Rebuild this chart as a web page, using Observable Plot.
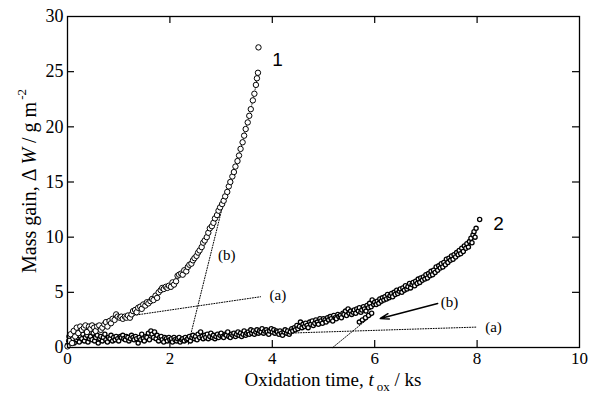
<!DOCTYPE html>
<html><head><meta charset="utf-8">
<script src="https://cdn.jsdelivr.net/npm/d3@7"></script>
<script src="https://cdn.jsdelivr.net/npm/@observablehq/plot@0.6"></script>
<style>body{margin:0;background:#fff}#chart svg{display:block}#chart svg text{font-family:"Liberation Serif",serif}#chart svg .sans text{font-family:"Liberation Sans",sans-serif}</style>
</head><body><div id="chart"></div>
<script>
// Series 1 (open circles)
const s1x = [0.00,0.03,0.06,0.09,0.12,0.15,0.18,0.21,0.25,0.28,0.32,0.35,0.38,0.42,0.45,0.48,0.52,0.55,0.58,0.62,0.65,0.68,0.72,0.75,0.78,0.82,0.85,0.88,0.92,0.95,0.98,1.02,1.05,1.08,1.12,1.15,1.18,1.22,1.25,1.28,1.32,1.35,1.38,1.42,1.45,1.48,1.52,1.55,1.58,1.62,1.65,1.68,1.72,1.75,1.78,1.82,1.85,1.88,1.92,1.95,1.98,2.02,2.05,2.08,2.12,2.15,2.18,2.22,2.25,2.28,2.32,2.35,2.38,2.42,2.45,2.48,2.52,2.55,2.58,2.62,2.65,2.68,2.72,2.75,2.78,2.82,2.85,2.88,2.92,2.95,2.98,3.02,3.05,3.08,3.12,3.15,3.18,3.22,3.25,3.28,3.32,3.35,3.38,3.42,3.45,3.48,3.52,3.55,3.58,3.62,3.65,3.68,3.70,3.72,3.73];
const s1y = [0.1,0.6,1.2,0.4,1.5,1.0,1.8,1.3,1.9,1.6,1.8,2.0,1.4,1.9,1.7,2.0,1.8,1.5,1.9,2.0,1.6,1.8,2.1,2.3,1.9,2.4,2.2,2.6,2.5,3.0,2.8,2.7,2.8,2.6,2.8,2.7,2.9,2.7,3.0,3.3,3.4,3.2,3.6,3.7,3.5,3.9,3.8,4.1,4.0,4.2,4.4,4.3,4.7,4.5,5.0,5.2,5.4,5.3,5.5,5.4,5.6,5.5,5.9,5.7,6.0,6.5,6.6,6.7,6.6,7.0,6.9,7.3,7.5,7.6,7.9,8.1,8.3,8.6,8.8,9.1,9.5,9.7,10.0,10.4,10.8,11.0,11.3,11.7,12.0,12.4,12.7,13.0,13.3,13.7,14.1,14.6,15.0,15.5,15.9,16.4,16.9,17.4,18.0,18.6,19.2,19.8,20.4,21.0,21.6,22.4,23.0,23.8,24.4,24.9,27.2];

// Series 2 (small circles)
const s2x = [0.00,0.03,0.05,0.08,0.10,0.13,0.15,0.18,0.20,0.23,0.25,0.28,0.30,0.33,0.35,0.38,0.40,0.43,0.45,0.48,0.50,0.53,0.55,0.58,0.60,0.63,0.65,0.68,0.70,0.73,0.75,0.78,0.80,0.83,0.85,0.88,0.90,0.93,0.95,0.98,1.00,1.03,1.05,1.08,1.10,1.13,1.15,1.18,1.20,1.23,1.25,1.28,1.30,1.33,1.35,1.38,1.40,1.43,1.45,1.48,1.50,1.53,1.55,1.58,1.60,1.63,1.65,1.68,1.70,1.73,1.75,1.78,1.80,1.83,1.85,1.88,1.90,1.93,1.95,1.98,2.00,2.03,2.05,2.08,2.10,2.13,2.15,2.18,2.20,2.23,2.25,2.28,2.30,2.33,2.35,2.38,2.40,2.43,2.45,2.48,2.50,2.53,2.55,2.58,2.60,2.63,2.65,2.68,2.70,2.73,2.75,2.78,2.80,2.83,2.85,2.88,2.90,2.93,2.95,2.98,3.00,3.03,3.05,3.08,3.10,3.13,3.15,3.18,3.20,3.23,3.25,3.28,3.30,3.33,3.35,3.38,3.40,3.43,3.45,3.48,3.50,3.53,3.55,3.58,3.60,3.63,3.65,3.68,3.70,3.73,3.75,3.78,3.80,3.83,3.85,3.88,3.90,3.93,3.95,3.98,4.00,4.03,4.05,4.08,4.10,4.13,4.15,4.18,4.20,4.23,4.25,4.28,4.30,4.33,4.35,4.38,4.40,4.43,4.45,4.48,4.50,4.53,4.55,4.58,4.60,4.63,4.65,4.68,4.70,4.73,4.75,4.78,4.80,4.83,4.85,4.88,4.90,4.93,4.95,4.98,5.00,5.03,5.05,5.08,5.10,5.13,5.15,5.18,5.20,5.23,5.25,5.28,5.30,5.33,5.35,5.38,5.40,5.43,5.45,5.48,5.50,5.53,5.55,5.58,5.60,5.63,5.65,5.68,5.70,5.73,5.75,5.78,5.80,5.83,5.85,5.88,5.90,5.93,5.95,5.98,6.00,5.70,5.76,5.82,5.88,5.94,6.03,6.05,6.08,6.10,6.13,6.15,6.18,6.20,6.23,6.25,6.28,6.30,6.33,6.35,6.38,6.40,6.43,6.45,6.48,6.50,6.53,6.55,6.58,6.60,6.63,6.65,6.68,6.70,6.73,6.75,6.78,6.80,6.83,6.85,6.88,6.90,6.93,6.95,6.98,7.00,7.03,7.05,7.08,7.10,7.13,7.15,7.18,7.20,7.23,7.25,7.28,7.30,7.33,7.35,7.38,7.40,7.43,7.45,7.48,7.50,7.53,7.55,7.58,7.60,7.63,7.65,7.68,7.70,7.73,7.75,7.78,7.80,7.83,7.85,7.88,7.90,7.92,7.94,7.96,7.98,8.05];
const s2y = [0.2,1.0,0.6,1.2,0.8,0.4,1.1,0.7,0.9,0.5,1.0,0.8,1.2,0.6,0.9,1.1,0.5,0.8,1.0,0.7,1.3,0.6,0.9,1.1,0.4,0.8,1.0,0.6,0.9,1.2,0.7,0.5,0.9,0.8,1.1,0.6,0.9,0.7,1.0,0.8,0.6,1.0,0.9,1.1,0.8,0.7,1.0,0.9,0.6,0.8,1.1,0.9,0.7,1.0,0.8,0.4,0.9,0.7,1.2,0.8,0.6,1.0,0.9,1.3,0.7,1.5,1.2,0.9,1.4,0.8,1.1,0.6,0.9,1.0,0.7,0.5,0.9,0.8,0.6,0.9,0.7,0.8,0.5,0.9,0.7,0.6,0.8,0.9,0.5,0.7,0.8,0.6,0.9,0.7,0.8,1.0,0.6,0.9,1.1,0.8,1.0,0.7,1.2,0.9,1.4,1.0,0.8,1.1,0.9,1.2,0.8,1.0,1.3,0.9,1.1,0.8,1.0,1.2,0.9,1.1,1.3,1.0,0.9,1.2,1.1,1.4,1.0,0.9,1.2,1.1,1.3,1.0,1.2,1.4,1.1,1.3,1.0,1.2,1.5,1.1,1.3,1.4,1.2,1.6,1.3,1.5,1.2,1.4,1.6,1.3,1.5,1.4,1.7,1.3,1.5,1.6,1.4,1.2,1.5,1.7,1.4,1.6,1.3,1.5,1.4,1.2,1.5,1.3,1.1,1.4,1.6,1.3,1.5,1.2,1.4,1.7,1.5,1.8,1.6,2.0,1.7,1.9,2.3,1.8,2.1,1.9,2.2,2.0,1.8,2.3,2.1,2.4,2.0,2.2,2.5,2.3,2.1,2.6,2.4,2.2,2.6,2.5,2.3,2.7,2.5,2.8,2.6,2.4,2.9,2.7,2.6,3.0,2.8,2.9,2.7,3.1,3.0,3.3,2.9,3.5,3.1,3.3,3.0,3.2,3.4,3.1,3.5,3.3,3.6,3.2,3.4,3.7,3.5,3.3,3.8,3.6,4.0,3.7,4.3,3.9,4.1,2.3,2.5,2.7,2.9,3.1,3.9,4.2,4.0,4.4,4.2,4.5,4.3,4.6,4.4,4.8,4.5,4.7,4.9,4.6,5.0,4.8,5.2,4.9,5.1,5.3,5.0,5.4,5.2,5.6,5.3,5.5,5.8,5.4,5.7,5.9,5.6,6.0,5.8,6.2,5.9,6.3,6.1,6.4,6.2,6.6,6.3,6.7,6.5,6.9,6.6,7.0,6.8,7.3,7.0,7.4,7.2,7.6,7.3,7.7,7.5,8.0,7.7,8.1,7.9,8.3,8.0,8.4,8.2,8.6,8.4,8.8,8.5,9.0,8.7,9.2,9.0,9.4,9.1,9.6,9.9,9.5,10.2,10.5,10.0,10.8,11.6];

// Tangent lines and annotations [x, y]
const tanA1 = [[1.2, 2.85], [3.77, 4.6]];
const tanB1 = [[2.36, 0.3], [3.05, 13.2]];
const tanA2 = [[4.3, 1.3], [8.0, 1.85]];
const tanB2 = [[5.18, 0.0], [5.97, 3.0]];
const arrowB2 = [{x1: 7.23, y1: 3.99, x2: 6.11, y2: 2.63}];
const curveLabels = [{x: 4.1, y: 26.1, t: "1"}, {x: 8.42, y: 11.2, t: "2"}];
const lineLabels = [
  {x: 3.11, y: 8.35, t: "(b)"}, {x: 4.11, y: 4.72, t: "(a)"},
  {x: 7.46, y: 4.1, t: "(b)"}, {x: 8.32, y: 1.8, t: "(a)"}
];
const xTicks = [0, 2, 4, 6, 8, 10];
const yTicks = [0, 5, 10, 15, 20, 25, 30];
const xTitle = "Oxidation time, ";
const yTitle = "Mass gain, ";

const W = 592, H = 394, mL = 67, mR = 13, mT = 16, mB = 47;
const pw = W - mL - mR, ph = H - mT - mB;
const s1 = s1x.map((x, i) => ({x, y: s1y[i]}));
const s2 = s2x.map((x, i) => ({x, y: s2y[i]}));
const toPts = a => a.map(([x, y]) => ({x, y}));
const dash = {x: "x", y: "y", stroke: "black", strokeWidth: 1, strokeDasharray: "1,1.6"};

const chart = Plot.plot({
  width: W, height: H,
  marginLeft: mL, marginRight: mR, marginTop: mT, marginBottom: mB,
  style: {fontSize: "18px", background: "white", color: "black"},
  x: {domain: [0, 10]},
  y: {domain: [0, 30]},
  marks: [
    Plot.line(toPts(tanA1), dash),
    Plot.line(toPts(tanB1), dash),
    Plot.line(toPts(tanA2), dash),
    Plot.line(toPts(tanB2), dash),
    Plot.line(s1.filter(d => d.x >= 2.85 && d.y < 26), {x: "x", y: "y", stroke: "black", strokeWidth: 0.8, strokeDasharray: "1,1.5"}),
    Plot.dot(s2, {x: "x", y: "y", r: 2.1, stroke: "black", strokeWidth: 1.3, fill: "white"}),
    Plot.dot(s1, {x: "x", y: "y", r: 2.7, stroke: "black", strokeWidth: 1, fill: "white"}),
    Plot.arrow(arrowB2, {x1: "x1", y1: "y1", x2: "x2", y2: "y2", stroke: "black", strokeWidth: 1.5, headLength: 9, headAngle: 35}),
    Plot.text(lineLabels, {x: "x", y: "y", text: "t", fontSize: 15, fill: "black"}),
    Plot.text(curveLabels, {x: "x", y: "y", text: "t", fontSize: 19, fill: "black", className: "sans"}),
    Plot.frame({stroke: "black", strokeWidth: 1.3}),
    Plot.tickX(xTicks.slice(1, -1), {x: d => d, insetTop: ph - 7, stroke: "black", strokeWidth: 1.2}),
    Plot.tickX(xTicks.slice(1, -1), {x: d => d, insetBottom: ph - 7, stroke: "black", strokeWidth: 1.2}),
    Plot.tickY(yTicks.slice(1, -1), {y: d => d, insetRight: pw - 7, stroke: "black", strokeWidth: 1.2}),
    Plot.tickY(yTicks.slice(1, -1), {y: d => d, insetLeft: pw - 7, stroke: "black", strokeWidth: 1.2}),
    Plot.axisX({ticks: xTicks, tickSize: 0, tickPadding: 4, label: null, fontSize: 17, fill: "black"}),
    Plot.axisY({ticks: yTicks, tickSize: 0, tickPadding: 4, label: null, fontSize: 18, fill: "black"})
  ]
});

const svg = d3.select(chart);
svg.selectAll(".sans text").style("font-family", "Liberation Sans, sans-serif");

const tx = svg.append("text")
  .attr("x", 333).attr("y", 386).attr("text-anchor", "middle")
  .attr("font-size", 19).attr("fill", "black");
tx.append("tspan").text(xTitle);
tx.append("tspan").attr("font-style", "italic").text("t");
tx.append("tspan").attr("font-size", 13).attr("dy", 5).attr("dx", 3).text("ox");
tx.append("tspan").attr("dy", -5).text(" / ks");

const ty = svg.append("text")
  .attr("transform", "translate(36,181) rotate(-90)").attr("text-anchor", "middle")
  .attr("font-size", 20).attr("fill", "black");
ty.append("tspan").text(yTitle + "Δ ");
ty.append("tspan").attr("font-style", "italic").text("W");
ty.append("tspan").text(" / g m");
ty.append("tspan").attr("font-size", 13).attr("dy", -10).attr("dx", 2).text("-2");

document.getElementById("chart").appendChild(chart);
</script>
</body></html>
